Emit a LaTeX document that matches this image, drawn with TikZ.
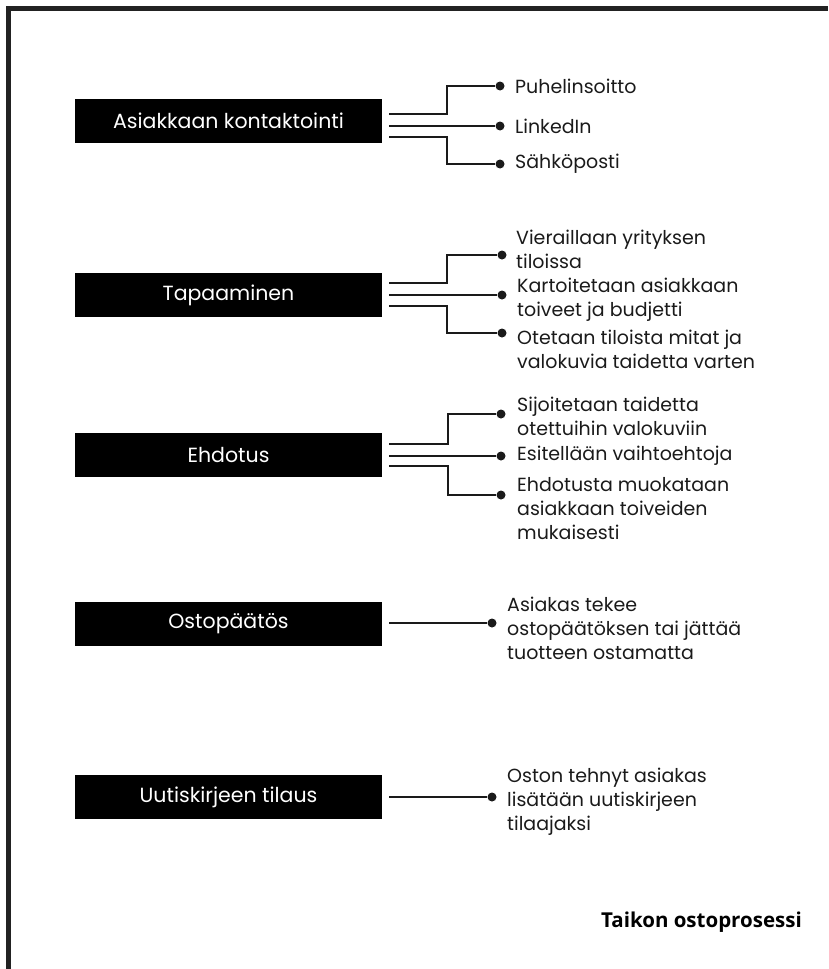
\documentclass[tikz,border=0pt]{standalone}
\usepackage{fontspec}
\setmainfont{Poppins}
\newfontfamily\titlefont{Open Sans}
\usetikzlibrary{calc}
\definecolor{ink}{HTML}{1A1A1A}
\definecolor{framec}{HTML}{222222}
\begin{document}
\begin{tikzpicture}[x=1pt,y=-1pt,
  box/.style={fill=black,text=white,minimum width=307pt,minimum height=44pt,inner sep=0pt,font=\fontsize{20.5}{24}\selectfont},
  dot/.style={circle,fill=ink,inner sep=0pt,minimum size=9pt},
  lbl/.style={anchor=west,align=left,inner sep=0pt,text=ink,font=\fontsize{19}{24}\selectfont},
  conn/.style={draw=ink,line width=2pt}]
\useasboundingbox (0,0) rectangle (828,969);
\fill[framec] (6,6) rectangle (828,11);
\fill[framec] (6,6) rectangle (11,969);

% boxes
\node[box] (b1) at (228.5,121) {Asiakkaan kontaktointi};
\node[box] (b2) at (228.5,295) {Tapaaminen};
\node[box] (b3) at (228.5,455) {Ehdotus};
\node[box] (b4) at (228.5,624) {Ostopäätös};
\node[box] (b5) at (228.5,797) {Uutiskirjeen tilaus};

% dots
\node[dot] (d11) at (500,86) {};
\node[dot] (d12) at (500,126) {};
\node[dot] (d13) at (500,164) {};
\node[dot] (d21) at (502,255) {};
\node[dot] (d22) at (502,295) {};
\node[dot] (d23) at (502,333) {};
\node[dot] (d31) at (501,414) {};
\node[dot] (d32) at (501,456) {};
\node[dot] (d33) at (501,495) {};
\node[dot] (d41) at (492,623) {};
\node[dot] (d51) at (492,797) {};

% connectors
\draw[conn] ($(b1.east)+(7,-7)$) -- ++(58,0) |- (d11);
\draw[conn] ($(b1.east)+(7,5)$) -- (d12);
\draw[conn] ($(b1.east)+(7,16)$) -- ++(58,0) |- (d13);
\draw[conn] ($(b2.east)+(7,-12)$) -- ++(58,0) |- (d21);
\draw[conn] ($(b2.east)+(7,0)$) -- (d22);
\draw[conn] ($(b2.east)+(7,11)$) -- ++(58,0) |- (d23);
\draw[conn] ($(b3.east)+(7,-11)$) -- ++(59,0) |- (d31);
\draw[conn] ($(b3.east)+(7,1)$) -- (d32);
\draw[conn] ($(b3.east)+(7,11)$) -- ++(59,0) |- (d33);
\draw[conn] ($(b4.east)+(7,-1)$) -- (d41);
\draw[conn] ($(b5.east)+(7,0)$) -- (d51);

% labels
\node[lbl] (l11) at (515,86) {Puhelinsoitto};
\node[lbl] (l12) at (515,126) {LinkedIn};
\node[lbl] (l13) at (515,164) {Sähköposti};
\node[lbl] (l21) at (516,249.5) {Vieraillaan yrityksen\\tiloissa};
\node[lbl] (l22) at (517,300) {Kartoitetaan asiakkaan\\toiveet ja budjetti};
\node[lbl] (l23) at (517,349.5) {Otetaan tiloista mitat ja\\valokuvia taidetta varten};
\node[lbl] (l31) at (517,416) {Sijoitetaan taidetta\\otettuihin valokuviin};
\node[lbl] (l32) at (517,456) {Esitellään vaihtoehtoja};
\node[lbl] (l33) at (517,509) {Ehdotusta muokataan\\asiakkaan toiveiden\\mukaisesti};
\node[lbl] (l41) at (507,628) {Asiakas tekee\\ostopäätöksen tai jättää\\tuotteen ostamatta};
\node[lbl] (l51) at (507,802) {Oston tehnyt asiakas\\lisätään uutiskirjeen\\tilaajaksi};

% title
\node[anchor=east,inner sep=0pt,font=\titlefont\bfseries\fontsize{20.5}{24}\selectfont,text=black] (title) at (802,922) {Taikon ostoprosessi};
\end{tikzpicture}
\end{document}
